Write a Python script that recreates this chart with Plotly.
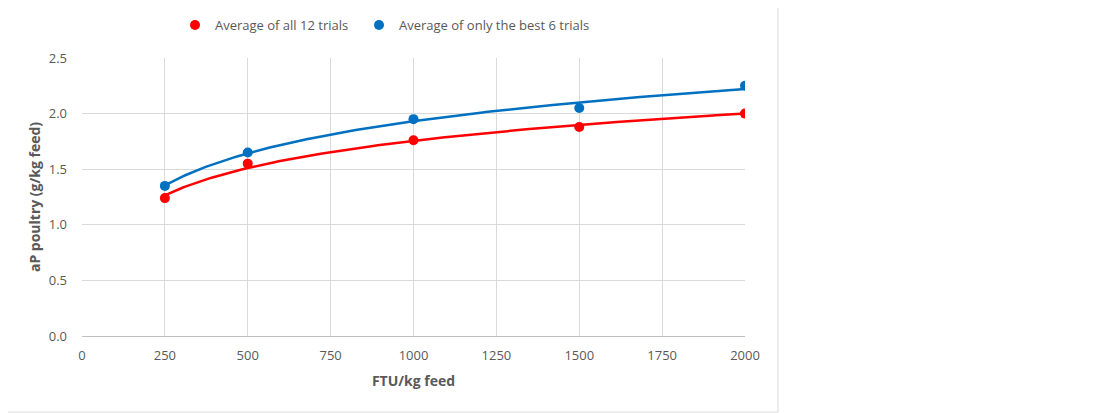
import numpy as np
import plotly.graph_objects as go

dose = [250, 500, 1000, 1500, 2000]
avg_all = [1.24, 1.55, 1.76, 1.88, 2.00]
avg_best = [1.35, 1.65, 1.95, 2.05, 2.25]
x_ticks = [0, 250, 500, 750, 1000, 1250, 1500, 1750, 2000]
y_ticks = [0.0, 0.5, 1.0, 1.5, 2.0, 2.5]

RED = "#FF0000"
BLUE = "#0070C0"
FONT = "Open Sans"
GRAY = "#595959"

def log_fit(x, y):
    x = np.asarray(x, float)
    b, a = np.polyfit(np.log(x), np.asarray(y, float), 1)
    xs = np.linspace(x.min(), x.max(), 200)
    return xs, a + b * np.log(xs)

fig = go.Figure()
for name, ys, col, lg in [("Average of all 12 trials", avg_all, RED, "legend"),
                          ("Average of only the best 6 trials", avg_best, BLUE, "legend2")]:
    xs, yf = log_fit(dose, ys)
    fig.add_trace(go.Scatter(x=xs, y=yf, mode="lines", line=dict(color=col, width=2.5),
                             showlegend=False, hoverinfo="skip"))
    fig.add_trace(go.Scatter(x=dose, y=ys, mode="markers", name=name, legend=lg,
                             marker=dict(color=col, size=10)))

# page offset of 8px (body margin) is subtracted here
OFF = 8
L, R, T, B = 82 - OFF, 745 - OFF, 58 - OFF, 336 - OFF
W, H = 1100, 413
pw, ph = R - L, B - T
def px(xp): return (xp - OFF - L) / pw
def py(yp): return (B - (yp - OFF)) / ph

leg_common = dict(orientation="h", xanchor="left", y=py(25), yanchor="middle",
                  font=dict(size=13, color=GRAY), itemwidth=30,
                  bgcolor="rgba(0,0,0,0)")

fig.update_layout(
    width=W, height=H,
    margin=dict(l=L, r=W - R, t=T, b=H - B, autoexpand=False),
    paper_bgcolor="white", plot_bgcolor="white",
    font=dict(family=FONT, size=13, color=GRAY),
    showlegend=True,
    legend=dict(x=px(175), **leg_common),
    legend2=dict(x=px(359), **leg_common),
    xaxis=dict(range=[0, 2000], tickvals=x_ticks, showgrid=True, gridcolor="#D9D9D9",
               gridwidth=1, zeroline=False, showline=True, linecolor="#BFBFBF",
               ticks="", ticklabelstandoff=7, automargin=False,
               tickfont=dict(size=13, color=GRAY),
               title=dict(text="<b>FTU/kg feed</b>", font=dict(size=14, color=GRAY), standoff=13)),
    yaxis=dict(range=[0, 2.5], tickvals=y_ticks, tickformat=".1f", showgrid=True,
               gridcolor="#D9D9D9", gridwidth=1, zeroline=False, showline=False,
               ticks="", ticklabelstandoff=14, automargin=False,
               tickfont=dict(size=13, color=GRAY),
               title=dict(text="<b>aP poultry (g/kg feed)</b>", font=dict(size=14, color=GRAY), standoff=4)),
    shapes=[dict(type="rect", xref="paper", yref="paper",
                 x0=px(0.5), x1=px(778), y0=py(412), y1=py(0.5),
                 line=dict(color="#D9D9D9", width=1), fillcolor="rgba(0,0,0,0)", layer="below")],
)

fig.write_html("out.html")
